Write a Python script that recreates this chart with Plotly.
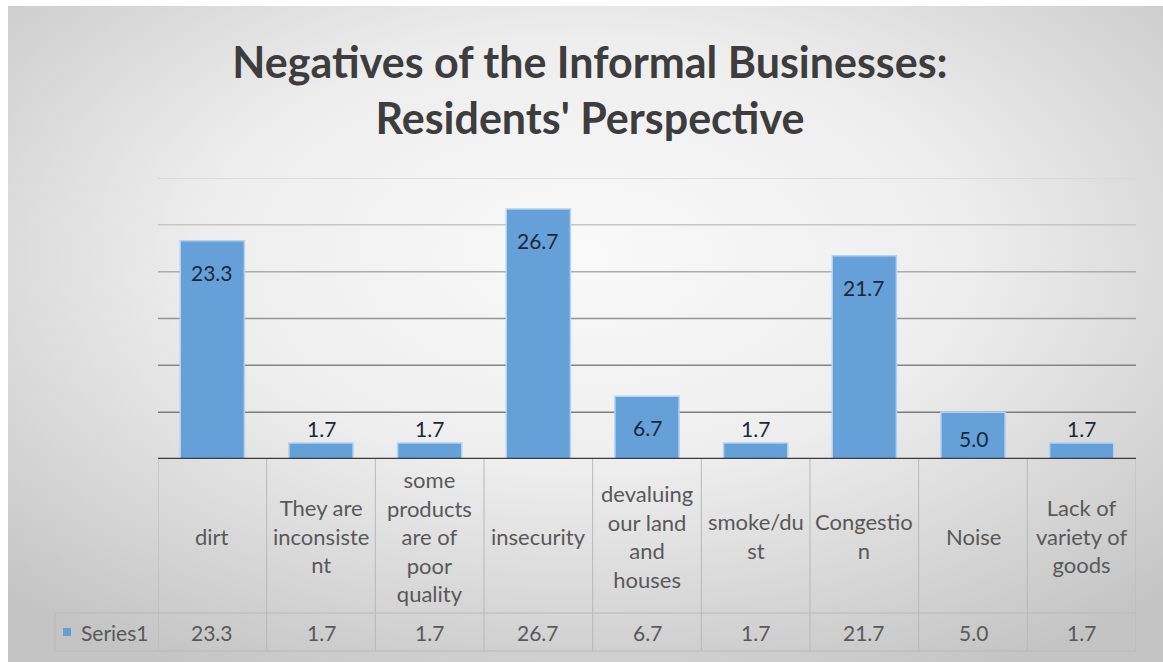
import base64
import plotly.graph_objects as go

# ---- data -------------------------------------------------------------
categories = [
    "dirt", "They are inconsistent", "some products are of poor quality",
    "insecurity", "devaluing our land and houses", "smoke/dust",
    "Congestion", "Noise", "Lack of variety of goods",
]
header_labels = [
    "dirt", "They are<br>inconsiste<br>nt", "some<br>products<br>are of<br>poor<br>quality",
    "insecurity", "devaluing<br>our land<br>and<br>houses", "smoke/du<br>st",
    "Congestio<br>n", "Noise", "Lack of<br>variety of<br>goods",
]
values = [23.3, 1.7, 1.7, 26.7, 6.7, 1.7, 21.7, 5.0, 1.7]
series_name = "Series1"
grid_values = [5, 10, 15, 20, 25, 30]
title_lines = ["Negatives of the Informal Businesses:", "Residents' Perspective"]

# ---- geometry / style -------------------------------------------------
W, H = 1163, 662
ML, MR, MT, MB = 158, 27, 178, 203
PW, PH = W - ML - MR, H - MT - MB
Y_MAX = 30
FONT = "Lato, 'Open Sans', sans-serif"
BAR = "#65a0d8"
TEXT_GRAY = "#595959"
TABLE_LINE = "#b8b8b8"
grid_colors = ["#7c7c7c", "#858585", "#959595", "#acacac", "#c6c6c6", "#d6d6d6"]


def px_x(p):
    return (p - ML) / PW


def px_y(p):
    return (H - MB - p) / PH


# soft radial backdrop behind the whole chart
svg = (
    '<svg xmlns="http://www.w3.org/2000/svg" width="1155" height="656" '
    'preserveAspectRatio="none" viewBox="0 0 1155 656">'
    '<defs><radialGradient id="g" cx="0.5" cy="0.38" r="0.72">'
    '<stop offset="0" stop-color="#f9f9f9"/>'
    '<stop offset="0.45" stop-color="#eeeeee"/>'
    '<stop offset="1" stop-color="#c4c4c4"/>'
    '</radialGradient></defs>'
    '<rect width="1155" height="656" fill="url(#g)"/></svg>'
)
bg_src = "data:image/svg+xml;base64," + base64.b64encode(svg.encode()).decode()

fig = go.Figure()
fig.add_trace(go.Bar(
    x=categories, y=values, name=series_name,
    marker=dict(color=BAR, line=dict(color="#b3d2ef", width=1.5)),
    hoverinfo="x+y",
))

shapes = []
# horizontal gridlines
for gv, gc in zip(grid_values, grid_colors):
    shapes.append(dict(type="line", xref="paper", yref="y", x0=0, x1=1, y0=gv, y1=gv,
                       line=dict(color=gc, width=1.5), layer="below"))

# table: vertical column separators
n = len(categories)
for i in range(n + 1):
    shapes.append(dict(type="line", xref="x", yref="paper", x0=i - 0.5, x1=i - 0.5,
                       y0=px_y(459), y1=px_y(651), line=dict(color=TABLE_LINE, width=1)))
# table: row separators and the series cell frame
for yy in (613, 651):
    shapes.append(dict(type="line", xref="paper", yref="paper", x0=px_x(55), x1=1,
                       y0=px_y(yy), y1=px_y(yy), line=dict(color=TABLE_LINE, width=1)))
shapes.append(dict(type="line", xref="paper", yref="paper", x0=px_x(55), x1=px_x(55),
                   y0=px_y(613), y1=px_y(651), line=dict(color=TABLE_LINE, width=1)))
# legend key square
shapes.append(dict(type="rect", xref="paper", yref="paper", x0=px_x(63), x1=px_x(71),
                   y0=px_y(636), y1=px_y(628), fillcolor=BAR, line=dict(width=0)))
# category axis baseline
shapes.append(dict(type="line", xref="paper", yref="y", x0=0, x1=1, y0=0, y1=0,
                   line=dict(color="#3c3c3c", width=2.5)))

annotations = []
# value labels on the bars: inside near the top, above the bar when it is too short
for c, v in zip(categories, values):
    bar_px = v * PH / Y_MAX
    inside = bar_px > 30
    annotations.append(dict(
        x=c, y=v, xref="x", yref="y", text=f"{v:.1f}", showarrow=False,
        yanchor="top" if inside else "bottom",
        yshift=-min(17, bar_px - 35) if inside else 0,
        font=dict(family=FONT, size=21, color="#1c2838"),
    ))
# table header row and value row
for c, lab, v in zip(categories, header_labels, values):
    annotations.append(dict(x=c, y=px_y(536), xref="x", yref="paper", text=lab,
                            showarrow=False, yanchor="middle",
                            font=dict(family=FONT, size=22, color=TEXT_GRAY)))
    annotations.append(dict(x=c, y=px_y(632), xref="x", yref="paper", text=f"{v:.1f}",
                            showarrow=False, yanchor="middle",
                            font=dict(family=FONT, size=21, color=TEXT_GRAY)))
annotations.append(dict(x=px_x(79), y=px_y(632), xref="paper", yref="paper",
                        text=series_name, showarrow=False, xanchor="left", yanchor="middle",
                        font=dict(family=FONT, size=21, color=TEXT_GRAY)))

fig.update_layout(
    width=W, height=H,
    margin=dict(l=ML, r=MR, t=MT, b=MB),
    paper_bgcolor="white", plot_bgcolor="rgba(0,0,0,0)",
    title=dict(
        text="<br>".join(title_lines), x=590 / W, xanchor="center",
        y=1 - 78 / H, yanchor="middle", yref="container",
        font=dict(family=FONT, size=43, color="#3d3d3d", weight="bold"),
    ),
    bargap=0.41, showlegend=False,
    xaxis=dict(showticklabels=False, showgrid=False, zeroline=False, showline=False,
               range=[-0.5, n - 0.5], fixedrange=True),
    yaxis=dict(range=[0, Y_MAX], showticklabels=False, showgrid=False, zeroline=False,
               showline=False, fixedrange=True),
    shapes=shapes, annotations=annotations,
    images=[dict(source=bg_src, xref="paper", yref="paper", x=px_x(8), y=px_y(6),
                 sizex=(W - 8) / PW, sizey=(H - 6) / PH, sizing="stretch",
                 xanchor="left", yanchor="top", layer="below")],
)

fig.write_html("out.html")
